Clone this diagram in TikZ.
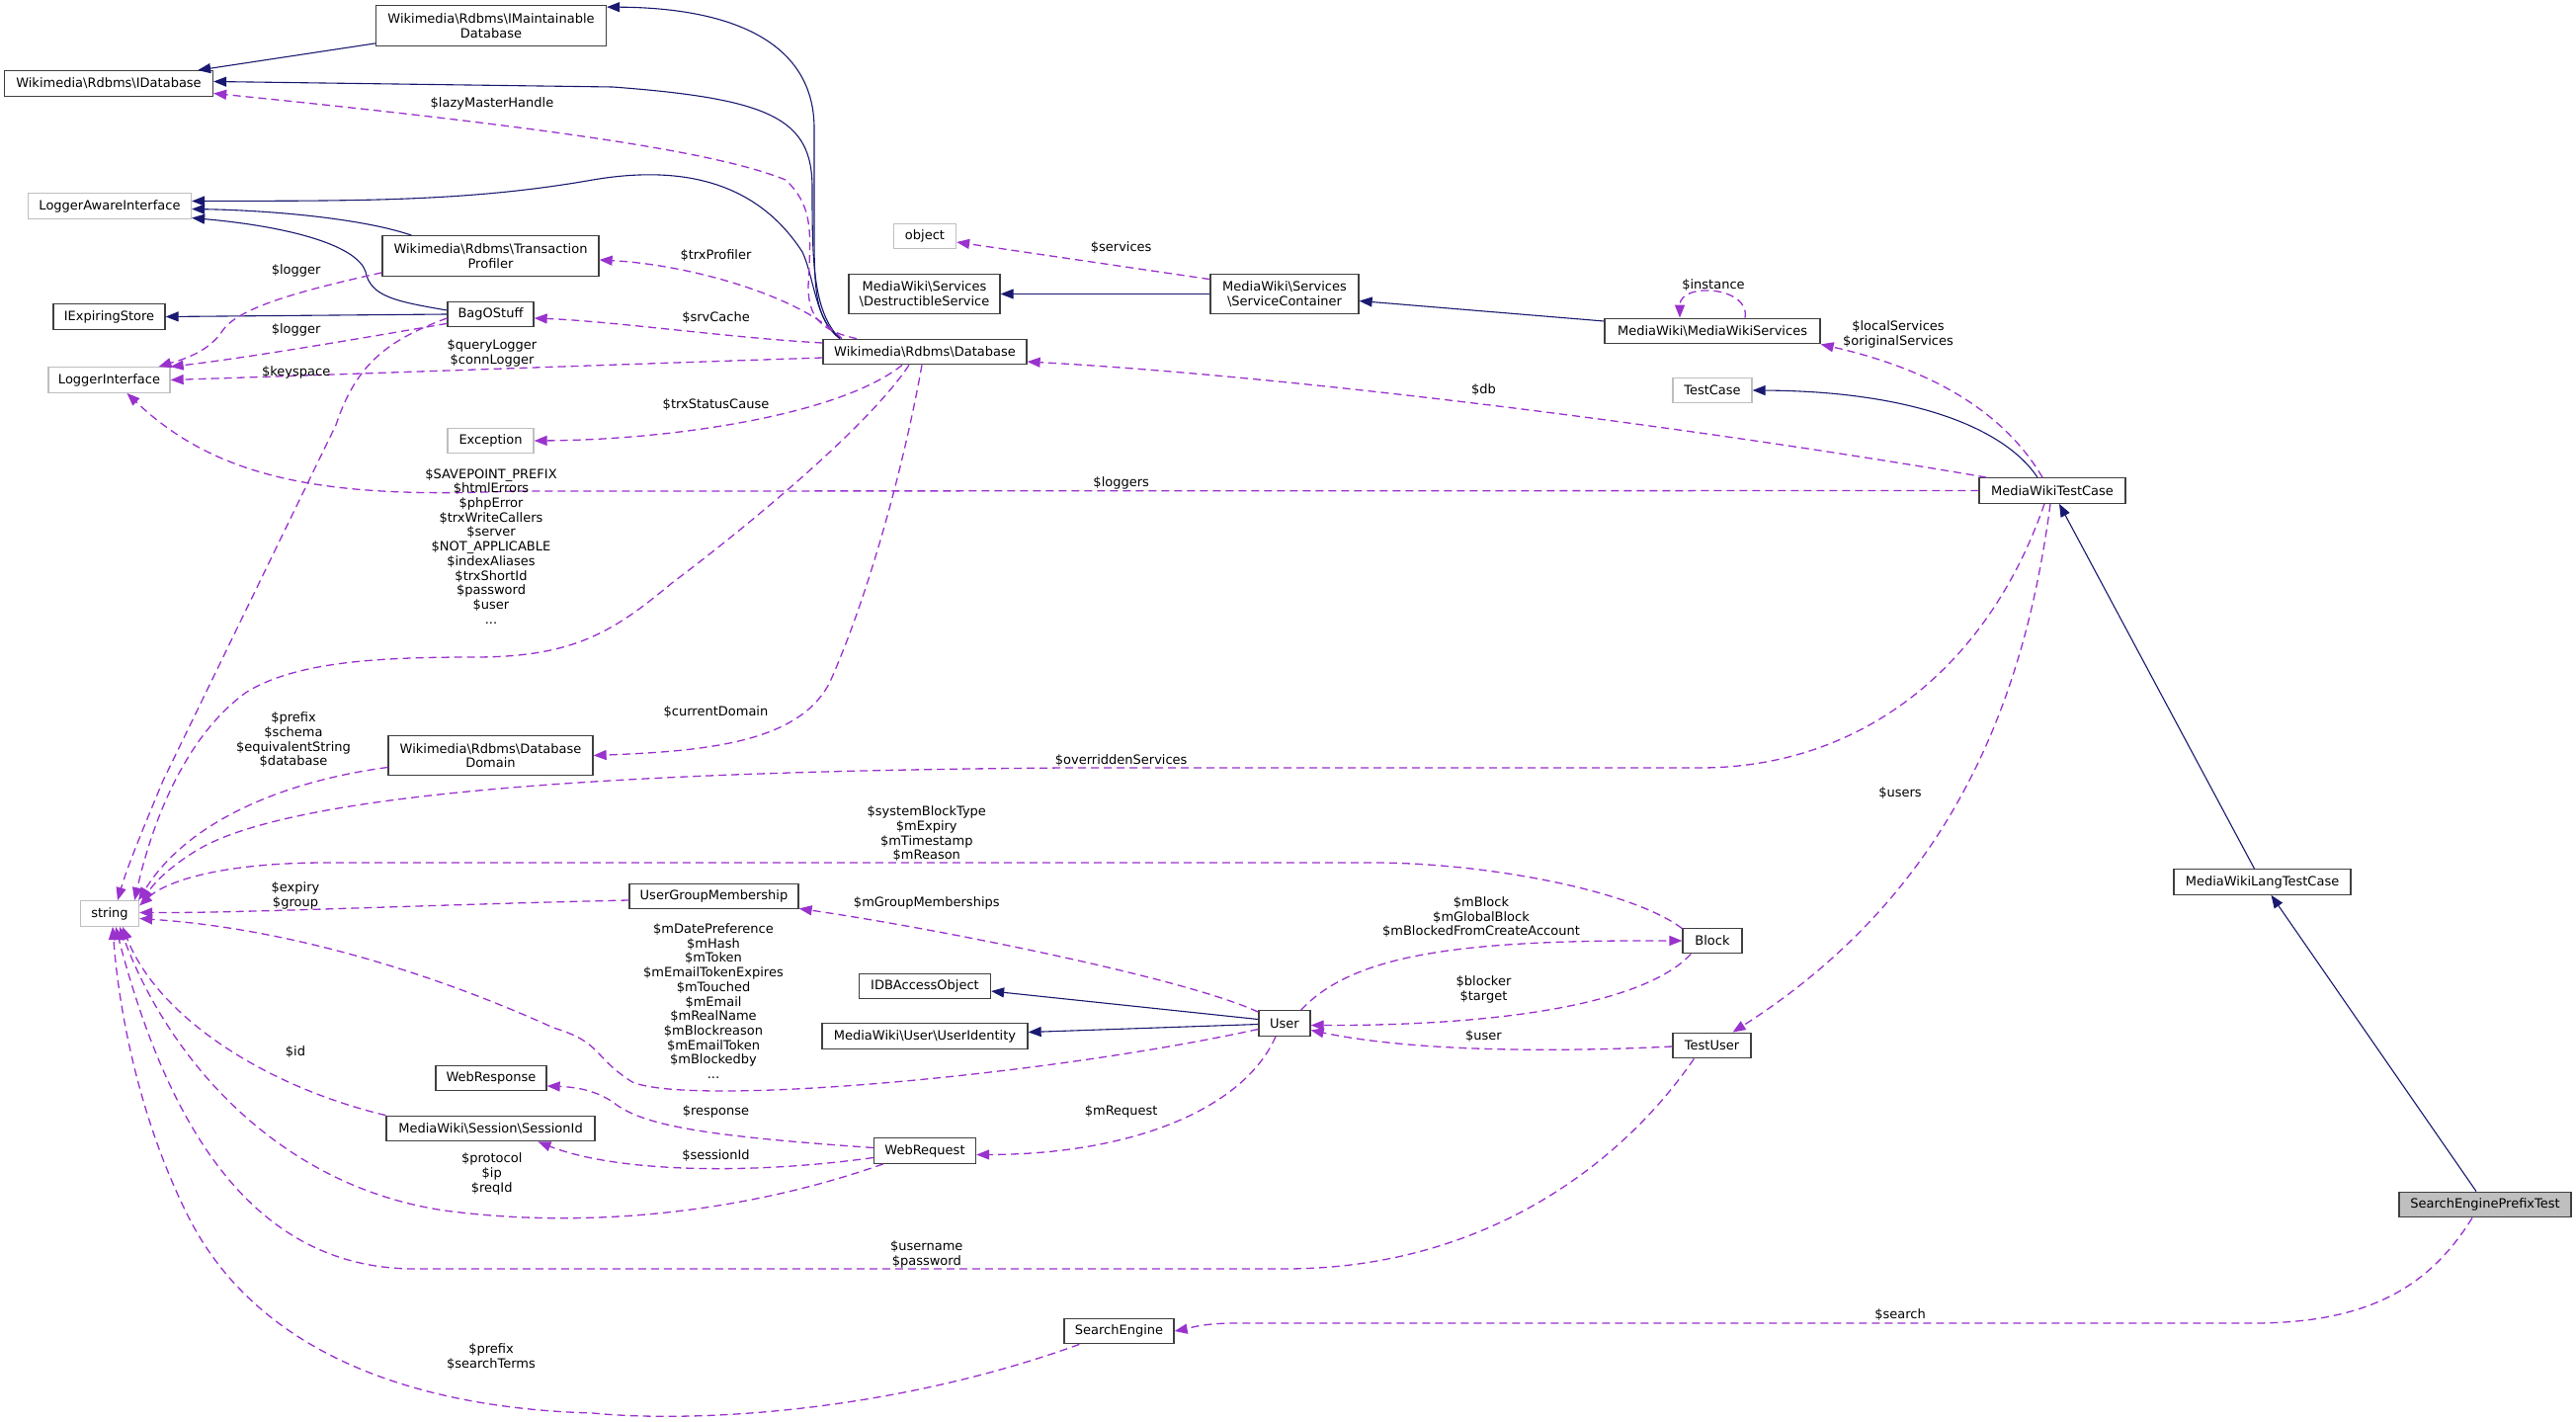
\documentclass[tikz,border=0pt]{standalone}
\usepackage{fontspec}
\setmainfont{DejaVu Sans}
\usetikzlibrary{arrows.meta,calc}
\definecolor{inhcol}{HTML}{191970}
\definecolor{relcol}{HTML}{9A32CD}
\definecolor{gbord}{HTML}{BFBFBF}
\definecolor{bbord}{HTML}{404040}
\newcommand{\bs}{\textbackslash}
\begin{document}
\begin{tikzpicture}[x=1pt,y=-1pt,
  font=\fontsize{13}{14.7}\selectfont,
  cls/.style={draw=bbord, line width=1.3pt, fill=white, minimum height=25.5pt, inner sep=0pt, align=center},
  clstwo/.style={cls, minimum height=40.5pt},
  ext/.style={cls, draw=gbord},
  inh/.style={draw=inhcol, line width=1.1pt, -{Triangle[length=13pt,width=10pt]}},
  rel/.style={draw=relcol, line width=1.3pt, dash pattern=on 8pt off 5pt, -{Triangle[length=13pt,width=10pt]}},
  lbl/.style={align=center, inner sep=0pt}]
\fill[white] (0,0) rectangle (2607,1439);
\useasboundingbox (0,0) rectangle (2607,1439);

% ---------- classes ----------
\node[clstwo, minimum width=233pt] (imdb) at (497,26) {Wikimedia\bs Rdbms\bs IMaintainable\\Database};
\node[cls, minimum width=211pt] (idb) at (110,84.5) {Wikimedia\bs Rdbms\bs IDatabase};
\node[ext, minimum width=165pt] (lai) at (111,208.5) {LoggerAwareInterface};
\node[clstwo, minimum width=219pt] (tp) at (496.5,259) {Wikimedia\bs Rdbms\bs Transaction\\Profiler};
\node[cls, minimum width=113pt] (ies) at (110.5,320.5) {IExpiringStore};
\node[cls, minimum width=87pt] (bag) at (496.5,318) {BagOStuff};
\node[ext, minimum width=123pt] (li) at (110.5,384.5) {LoggerInterface};
\node[cls, minimum width=206pt] (db) at (936,356) {Wikimedia\bs Rdbms\bs Database};
\node[ext, minimum width=63pt] (obj) at (936,239) {object};
\node[clstwo, minimum width=153pt] (ds) at (935.5,297.5) {MediaWiki\bs Services\\\bs DestructibleService};
\node[clstwo, minimum width=150pt] (sc) at (1300,297.5) {MediaWiki\bs Services\\\bs ServiceContainer};
\node[cls, minimum width=218pt] (mws) at (1733,335) {MediaWiki\bs MediaWikiServices};
\node[ext, minimum width=80pt] (tc) at (1733,395) {TestCase};
\node[ext, minimum width=87pt] (exc) at (496.5,446) {Exception};
\node[cls, minimum width=148pt] (mwtc) at (2077,496.5) {MediaWikiTestCase};
\node[clstwo, minimum width=207pt] (dd) at (496.5,764.5) {Wikimedia\bs Rdbms\bs Database\\Domain};
\node[ext, minimum width=59pt] (str) at (111,924.5) {string};
\node[cls, minimum width=171pt] (ugm) at (722.5,907) {UserGroupMembership};
\node[cls, minimum width=179pt] (mwltc) at (2289.5,892.5) {MediaWikiLangTestCase};
\node[cls, minimum width=60pt] (block) at (1733,952) {Block};
\node[cls, minimum width=133pt] (idbao) at (936,998) {IDBAccessObject};
\node[cls, minimum width=208pt] (uid) at (936,1048.5) {MediaWiki\bs User\bs UserIdentity};
\node[cls, minimum width=52pt] (user) at (1300,1035.5) {User};
\node[cls, minimum width=79pt] (tu) at (1732.5,1058) {TestUser};
\node[cls, minimum width=112pt] (wresp) at (497,1091) {WebResponse};
\node[cls, minimum width=211pt] (sid) at (496.5,1142) {MediaWiki\bs Session\bs SessionId};
\node[cls, minimum width=103pt] (wreq) at (936,1164.5) {WebRequest};
\node[cls, minimum width=174pt, fill=gbord] (sept) at (2515,1219) {SearchEnginePrefixTest};
\node[cls, minimum width=111pt] (se) at (1132.5,1347) {SearchEngine};

% ---------- inheritance ----------
\draw[inh] ($(imdb.south west)+(0,-3)$) -- ($(idb.north east)+(-16,0)$);
\draw[inh] ($(db.north)+(-86,0)$) .. controls (825,322) and (824,295) .. (824,233) -- (824,130) .. controls (824,45) and (745,8) .. ($(imdb.north east)+(0,2)$);
\draw[inh] ($(db.north)+(-86,0)$) .. controls (822,315) and (822,260) .. (822,190) .. controls (822,120) and (780,100) .. (620,88) -- ($(idb.east)+(0,-2)$);
\draw[inh] ($(db.north)+(-86,0)$) .. controls (825,325) and (824,280) .. (812,255) .. controls (770,190) and (700,165) .. (600,182) .. controls (470,205) and (350,203) .. ($(lai.east)+(0,-5)$);
\draw[inh] ($(tp.north west)+(30,0)$) .. controls (370,222) and (280,213) .. ($(lai.east)+(0,3)$);
\draw[inh] ($(bag.west)+(0,-4)$) .. controls (400,305) and (375,300) .. (370,275) .. controls (362,250) and (300,230) .. ($(lai.east)+(0,12)$);
\draw[inh] (bag.west) -- (ies.east);
\draw[inh] (sc.west) -- (ds.east);
\draw[inh] ($(mws.west)+(0,-10)$) -- ($(sc.east)+(0,7)$);
\draw[inh] ($(mwtc.north)+(-15,0)$) .. controls (2030,435) and (1940,396) .. (tc.east);
\draw[inh] ($(mwltc.north)+(-8,0)$) -- ($(mwtc.south)+(7,0)$);
\draw[inh] ($(sept.north)+(-9,0)$) -- ($(mwltc.south)+(9,0)$);
\draw[inh] ($(user.west)+(0,-4)$) -- ($(idbao.east)+(0,5)$);
\draw[inh] ($(user.west)+(0,1)$) -- ($(uid.east)+(0,-4)$);

% ---------- usage relations ----------
\draw[rel] ($(db.north)+(-69,0)$) .. controls (830,335) and (818,320) .. (818,290) .. controls (820,240) and (825,210) .. (795,182) .. controls (740,160) and (620,135) .. ($(idb.east)+(0,10)$);
\node[lbl] (l_lazy) at (498,105.3) {\$lazyMasterHandle};

\draw[rel] ($(db.north)+(-84,0)$) .. controls (810,300) and (700,268) .. ($(tp.east)+(0,4)$);
\node[lbl] (l_trxp) at (724.5,258.3) {\$trxProfiler};

\draw[rel] ($(db.west)+(0,-9)$) .. controls (740,342) and (620,325) .. ($(bag.east)+(0,4)$);
\node[lbl] (l_srv) at (724.5,321.7) {\$srvCache};

\draw[rel] ($(db.west)+(0,6)$) .. controls (650,368) and (400,377) .. (li.east);
\node[lbl] (l_qlog) at (498,357.3) {\$queryLogger\\\$connLogger};

\draw[rel] ($(tp.south west)+(0,-4)$) .. controls (300,295) and (240,312) .. (225,335) .. controls (210,358) and (180,365) .. ($(li.north)+(50,0)$);
\node[lbl] (l_log1) at (299.7,273.7) {\$logger};

\draw[rel] ($(bag.south west)+(0,-4)$) .. controls (350,345) and (250,362) .. (li.north east);
\node[lbl] (l_log2) at (299.7,334.3) {\$logger};

\draw[rel] ($(bag.west)+(0,4)$) .. controls (390,345) and (360,370) .. (340,430) -- (165,790) .. controls (140,850) and (128,880) .. ($(str.north)+(8,0)$);
\node[lbl] (l_keys) at (299.7,376.7) {\$keyspace};

\draw[rel] (mwtc.west) -- (520,497) .. controls (330,505) and (220,485) .. ($(li.south)+(18,0)$);
\node[lbl] (l_loggers) at (1134.7,489) {\$loggers};

\draw[rel] ($(db.south)+(-23,0)$) .. controls (850,420) and (680,445) .. (exc.east);
\node[lbl] (l_trxs) at (724.5,410) {\$trxStatusCause};

\draw[rel] ($(db.south)+(-16,0)$) .. controls (880,430) and (760,530) .. (680,590) .. controls (620,640) and (580,665) .. (480,665) .. controls (380,665) and (300,670) .. (250,700) .. controls (180,750) and (150,850) .. ($(str.north east)+(-5,0)$);
\node[lbl] (l_save) at (497,552.7) {\$SAVEPOINT\_PREFIX\\\$htmlErrors\\\$phpError\\\$trxWriteCallers\\\$server\\\$NOT\_APPLICABLE\\\$indexAliases\\\$trxShortId\\\$password\\\$user\\...};

\draw[rel] ($(db.south)+(-3,0)$) .. controls (915,470) and (880,600) .. (840,690) .. controls (810,750) and (720,760) .. (dd.east);
\node[lbl] (l_cur) at (724.5,720.7) {\$currentDomain};

\draw[rel] ($(dd.west)+(0,12)$) .. controls (290,790) and (190,830) .. ($(str.north east)+(-1,0)$);
\node[lbl] (l_pref) at (297,748.7) {\$prefix\\\$schema\\\$equivalentString\\\$database};

\draw[rel] ($(mwtc.south)+(-8,0)$) .. controls (2010,680) and (1880,777) .. (1720,777) -- (1080,777) .. controls (650,780) and (300,800) .. (200,860) .. controls (170,878) and (155,895) .. ($(str.north east)+(2,2)$);
\node[lbl] (l_over) at (1134.7,769.3) {\$overriddenServices};

\draw[rel] ($(block.north west)+(0,1)$) .. controls (1650,900) and (1500,873) .. (1390,873) -- (330,873) .. controls (230,873) and (170,890) .. ($(str.east)+(0,-8)$);
\node[lbl] (l_sbt) at (937.8,843.7) {\$systemBlockType\\\$mExpiry\\\$mTimestamp\\\$mReason};

\draw[rel] ($(ugm.west)+(0,4)$) .. controls (450,915) and (250,924) .. ($(str.east)+(0,-1)$);
\node[lbl] (l_exp) at (299,906.4) {\$expiry\\\$group};

\draw[rel] ($(user.north west)+(0,2)$) .. controls (1200,990) and (950,940) .. ($(ugm.south east)+(0,-1)$);
\node[lbl] (l_mgm) at (937.8,913.7) {\$mGroupMemberships};

\draw[rel] ($(user.west)+(0,6)$) .. controls (1050,1090) and (700,1120) .. (640,1095) .. controls (600,1070) and (610,1055) .. (560,1040) .. controls (450,990) and (300,940) .. ($(str.east)+(0,5)$);
\node[lbl] (l_mdp) at (722,1013.1) {\$mDatePreference\\\$mHash\\\$mToken\\\$mEmailTokenExpires\\\$mTouched\\\$mEmail\\\$mRealName\\\$mBlockreason\\\$mEmailToken\\\$mBlockedby\\...};

\draw[rel] ($(user.north east)+(-10,0)$) .. controls (1370,965) and (1480,951) .. (block.west);
\node[lbl] (l_mblock) at (1499,928.2) {\$mBlock\\\$mGlobalBlock\\\$mBlockedFromCreateAccount};

\draw[rel] ($(block.south west)+(9,0)$) .. controls (1660,1020) and (1500,1038) .. ($(user.east)+(0,2)$);
\node[lbl] (l_blk) at (1501.5,1001.2) {\$blocker\\\$target};

\draw[rel] ($(tu.west)+(0,1)$) .. controls (1550,1066) and (1420,1062) .. ($(user.east)+(0,7)$);
\node[lbl] (l_user) at (1501.5,1048.7) {\$user};

\draw[rel] ($(mwtc.south)+(-2,0)$) .. controls (2050,700) and (1980,900) .. ($(tu.north)+(21,0)$);
\node[lbl] (l_users) at (1923,803) {\$users};

\draw[rel] ($(tu.south west)+(22,0)$) .. controls (1640,1180) and (1500,1284) .. (1300,1284) -- (420,1284) .. controls (280,1284) and (180,1180) .. ($(str.south)+(6,0)$);
\node[lbl] (l_uname) at (937.8,1269.4) {\$username\\\$password};

\draw[rel] ($(user.south)+(-9,0)$) .. controls (1260,1120) and (1150,1168) .. ($(wreq.east)+(0,4)$);
\node[lbl] (l_mreq) at (1134.7,1124.7) {\$mRequest};

\draw[rel] ($(wreq.west)+(0,-3)$) .. controls (720,1150) and (650,1140) .. (620,1115) .. controls (600,1102) and (580,1100) .. ($(wresp.east)+(0,8)$);
\node[lbl] (l_resp) at (724.5,1124.8) {\$response};

\draw[rel] ($(wreq.west)+(0,7)$) .. controls (750,1190) and (620,1185) .. ($(sid.south)+(48,0)$);
\node[lbl] (l_sess) at (724.5,1169.6) {\$sessionId};

\draw[rel] ($(wreq.south west)+(10,0)$) .. controls (760,1225) and (600,1245) .. (450,1225) .. controls (280,1200) and (170,1070) .. ($(str.south)+(10,0)$);
\node[lbl] (l_prot) at (497.7,1187.9) {\$protocol\\\$ip\\\$reqId};

\draw[rel] (sid.north west) .. controls (270,1100) and (160,1030) .. ($(str.south)+(13,0)$);
\node[lbl] (l_id) at (299,1065) {\$id};

\draw[rel] ($(se.south west)+(16,0)$) .. controls (900,1430) and (700,1440) .. (600,1430) .. controls (420,1425) and (260,1370) .. (190,1230) .. controls (140,1130) and (120,1020) .. ($(str.south)+(3,0)$);
\node[lbl] (l_stm) at (497,1373.2) {\$prefix\\\$searchTerms};

\draw[rel] ($(sept.south)+(-13,0)$) .. controls (2460,1300) and (2400,1339) .. (2280,1339) -- (1250,1339) .. controls (1215,1339) and (1200,1345) .. (se.east);
\node[lbl] (l_search) at (1923,1331) {\$search};

\draw[rel] ($(mwtc.north west)+(8,0)$) .. controls (1700,430) and (1300,380) .. ($(db.east)+(0,10)$);
\node[lbl] (l_db) at (1501.5,394.7) {\$db};

\draw[rel] ($(mwtc.north)+(-10,0)$) .. controls (2030,420) and (1960,375) .. (mws.south east);
\node[lbl] (l_loc) at (1921,338.5) {\$localServices\\\$originalServices};

\draw[rel] ($(mws.north)+(33,0)$) .. controls (1772,290) and (1700,285) .. ($(mws.north)+(-33,0)$);
\node[lbl] (l_inst) at (1734,289) {\$instance};

\draw[rel] ($(sc.north west)+(0,6)$) -- ($(obj.east)+(0,6)$);
\node[lbl] (l_serv) at (1134.7,250.7) {\$services};
\end{tikzpicture}
\end{document}
